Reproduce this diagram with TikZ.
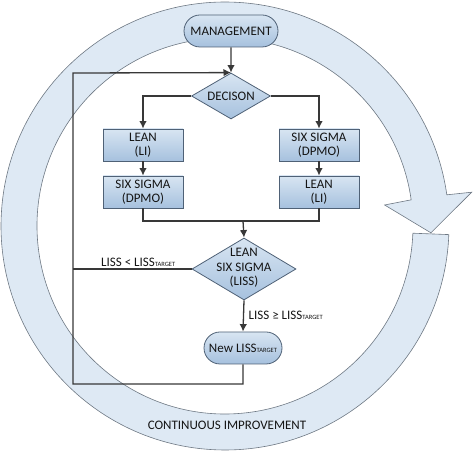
\documentclass[tikz,border=0pt]{standalone}
\usepackage{fontspec}
\setmainfont{Carlito}
\usepackage{tikz}
\usetikzlibrary{shapes.geometric,shapes.misc,arrows.meta}

\definecolor{boxtop}{HTML}{D8E5F2}
\definecolor{boxbot}{HTML}{A6C1DE}
\definecolor{boxline}{HTML}{4F6176}
\definecolor{ringfill}{HTML}{DEE9F4}
\definecolor{ringline}{HTML}{6E7883}
\definecolor{flowline}{HTML}{383838}

\newcommand{\tgt}{{\fontsize{6.5}{7}\selectfont TARGET}}

\begin{document}
\begin{tikzpicture}[x=1pt,y=1pt,
        font=\fontsize{13}{14.5}\selectfont,text=black!92,
        base/.style={draw=boxline,line width=0.8pt,top color=boxtop,bottom color=boxbot,align=center,inner sep=1pt},
        proc/.style={base,rectangle,minimum width=80pt,minimum height=32pt},
        term/.style={base,rounded rectangle,minimum height=32pt},
        dec/.style={base,diamond,inner sep=0pt},
        arr/.style={draw=flowline,line width=1.3pt,-{Latex[length=7.5pt,width=7.5pt]}},
        flow/.style={draw=flowline,line width=1.3pt},
        lbl/.style={inner sep=1.5pt}]
    \useasboundingbox (0,0) rectangle (474,452);

    % continuous improvement ring
    \begin{scope}[shift={(225,226)}]
        \filldraw[fill=ringfill,draw=ringline,line width=0.6pt]
            (-2.2:224) arc[start angle=-2.2,end angle=-352,radius=224pt]
            -- (7.8:249) -- (-1.9:206) -- (7.5:161) -- (8:188)
            arc[start angle=-352,end angle=-2.2,radius=188pt] -- cycle;
        \node[lbl] (ci) at (2,-199) {CONTINUOUS IMPROVEMENT};
    \end{scope}

    % flow chart
    \node[term,minimum width=96pt] (mgmt) at (231,421) {MANAGEMENT};
    \node[dec,minimum width=79pt,minimum height=46pt,label=center:DECISON] (decide) at (231,356) {};
    \node[proc] (lean1) at (143,307) {LEAN\\(LI)};
    \node[proc] (six1) at (143,260) {SIX SIGMA\\(DPMO)};
    \node[proc] (six2) at (319,307) {SIX SIGMA\\(DPMO)};
    \node[proc] (lean2) at (319,260) {LEAN\\(LI)};
    \node[dec,minimum width=104pt,minimum height=62pt,
          label={[align=center,yshift=1pt]center:LEAN\\SIX SIGMA\\(LISS)}] (liss) at (244,183) {};
    \node[term,minimum width=80pt] (newliss) at (243,104) {New LISS\tgt};

    \coordinate (join) at (243,231);
    \coordinate (loopbot) at (73,68);
    \coordinate (looptop) at (73,379);

    \draw[arr] (mgmt) -- (decide);
    \draw[arr] (decide.west) -| (lean1);
    \draw[arr] (decide.east) -| (six2);
    \draw[arr] (lean1) -- (six1);
    \draw[arr] (six2) -- (lean2);
    \draw[flow] (six1.south) |- (join) -| (lean2.south);
    \draw[arr] (join) -- (liss.north);
    \draw[arr] (liss.south) -- node[lbl,right,xshift=3pt,yshift=1pt] {LISS ≥ LISS\tgt} (newliss.north);
    \draw[flow] (liss.west) -- node[lbl,pos=0.12,anchor=south east] {LISS < LISS\tgt} (liss.west -| loopbot);
    \draw[arr] (newliss.south) |- (loopbot) -- (looptop) -- (decide.north);
\end{tikzpicture}
\end{document}
